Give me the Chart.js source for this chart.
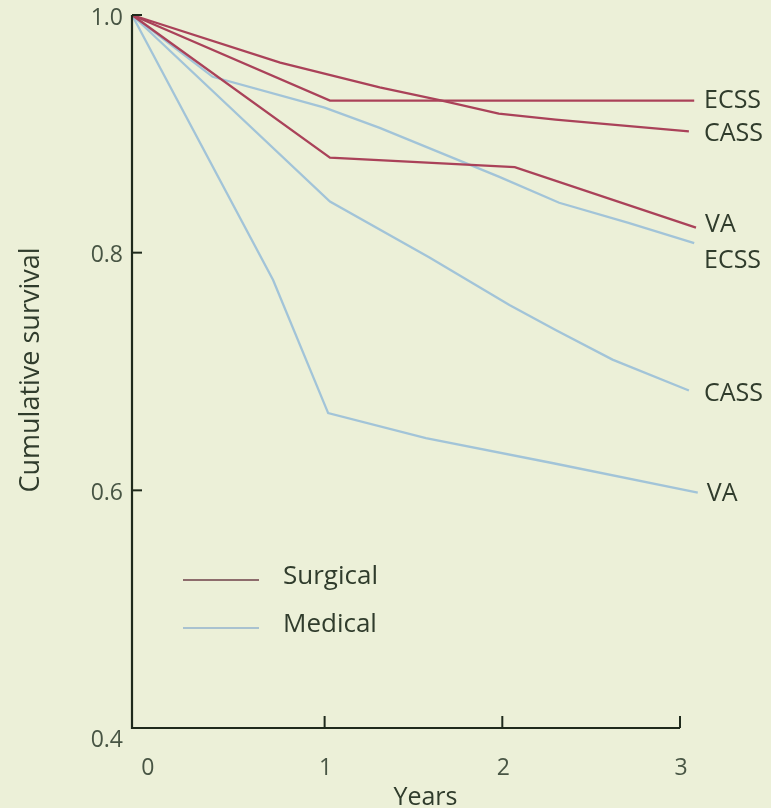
<!DOCTYPE html>
<html>
<head>
<meta charset="utf-8">
<script src="https://cdn.jsdelivr.net/npm/chart.js@4.4.1/dist/chart.umd.min.js"></script>
<style>
  html, body { margin: 0; padding: 0; background: #ecf0d8; }
  #wrap { width: 771px; height: 808px; position: relative; }
</style>
</head>
<body>
<div id="wrap"><canvas id="c"></canvas></div>
<script>
// Axis ticks
const xTicks = [0, 1, 2, 3];
const xTickLabels = ['0', '1', '2', '3'];
const yTicks = [0.4, 0.6, 0.8, 1.0];
const yTickLabels = ['0.4', '0.6', '0.8', '1.0'];

// The curves start at the axis corner, just left of the "0" tick
const AXIS_START = -0.084;

// Cumulative survival by trial and treatment group (years, survival)
const surgicalEcssYears = [AXIS_START, 0.75, 1.31, 1.66, 3.08];
const surgicalEcssSurvival = [1.0, 0.960, 0.939, 0.928, 0.928];
const surgicalCassYears = [AXIS_START, 1.03, 1.66, 1.98, 2.30, 3.05];
const surgicalCassSurvival = [1.0, 0.928, 0.928, 0.917, 0.912, 0.902];
const surgicalVaYears = [AXIS_START, 1.03, 2.07, 3.09];
const surgicalVaSurvival = [1.0, 0.880, 0.872, 0.821];

const medicalEcssYears = [AXIS_START, 0.37, 1.0, 1.31, 1.98, 2.32, 2.71, 3.08];
const medicalEcssSurvival = [1.0, 0.948, 0.922, 0.905, 0.864, 0.842, 0.825, 0.808];
const medicalCassYears = [AXIS_START, 1.03, 1.59, 2.04, 2.30, 2.62, 3.05];
const medicalCassSurvival = [1.0, 0.843, 0.796, 0.756, 0.735, 0.710, 0.684];
const medicalVaYears = [AXIS_START, 0.71, 1.02, 1.57, 2.28, 3.10];
const medicalVaSurvival = [1.0, 0.777, 0.665, 0.644, 0.623, 0.598];

const groupNames = ['Surgical', 'Medical'];
const trialNames = ['ECSS', 'CASS', 'VA'];

const SURGICAL = '#aa4259';
const MEDICAL = '#a2c4d8';
const INK = '#303c2c';
const FONT = '"Open Sans", "DejaVu Sans", sans-serif';

function toPoints(xs, ys) { return xs.map((x, i) => ({ x: x, y: ys[i] })); }

const series = [
  { group: 0, trial: 0, pts: toPoints(surgicalEcssYears, surgicalEcssSurvival), color: SURGICAL, labelShift: 0 },
  { group: 0, trial: 1, pts: toPoints(surgicalCassYears, surgicalCassSurvival), color: SURGICAL, labelShift: 2 },
  { group: 0, trial: 2, pts: toPoints(surgicalVaYears, surgicalVaSurvival), color: SURGICAL, labelShift: -3 },
  { group: 1, trial: 0, pts: toPoints(medicalEcssYears, medicalEcssSurvival), color: MEDICAL, labelShift: 18 },
  { group: 1, trial: 1, pts: toPoints(medicalCassYears, medicalCassSurvival), color: MEDICAL, labelShift: 3 },
  { group: 1, trial: 2, pts: toPoints(medicalVaYears, medicalVaSurvival), color: MEDICAL, labelShift: 1 }
];

const datasets = series.map(s => ({
  label: groupNames[s.group] + ' ' + trialNames[s.trial],
  data: s.pts,
  borderColor: s.color,
  borderWidth: 2.3,
  pointRadius: 0,
  tension: 0,
  fill: false,
  clip: false
}));

const paperPlugin = {
  id: 'paper',
  beforeDraw(chart) {
    const ctx = chart.ctx;
    ctx.save();
    ctx.fillStyle = '#ecf0d8';
    ctx.fillRect(0, 0, chart.width, chart.height);
    ctx.restore();
  }
};

const decorPlugin = {
  id: 'decor',
  afterDraw(chart) {
    const ctx = chart.ctx;
    const xs = chart.scales.x, ys = chart.scales.y;
    const area = chart.chartArea;
    ctx.save();

    // axis lines
    ctx.strokeStyle = '#1f2a1c';
    ctx.lineWidth = 2.2;
    ctx.beginPath();
    ctx.moveTo(area.left, ys.getPixelForValue(1.0));
    ctx.lineTo(area.left, ys.getPixelForValue(0.4));
    ctx.lineTo(xs.getPixelForValue(3), ys.getPixelForValue(0.4));
    ctx.stroke();

    // inward tick marks
    ctx.lineWidth = 2;
    xTicks.forEach(v => {
      if (v === 0) return;
      const px = xs.getPixelForValue(v);
      ctx.beginPath();
      ctx.moveTo(px, area.bottom);
      ctx.lineTo(px, area.bottom - 12);
      ctx.stroke();
    });
    yTicks.forEach(v => {
      if (v === 0.4) return;
      const py = ys.getPixelForValue(v);
      ctx.beginPath();
      ctx.moveTo(area.left, py);
      ctx.lineTo(area.left + 10, py);
      ctx.stroke();
    });

    // tick labels
    ctx.fillStyle = '#485544';
    ctx.font = '23px ' + FONT;
    ctx.textBaseline = 'middle';
    ctx.textAlign = 'center';
    xTicks.forEach((v, i) => {
      ctx.fillText(xTickLabels[i], xs.getPixelForValue(v) + 1, area.bottom + 40);
    });
    ctx.textAlign = 'right';
    yTicks.forEach((v, i) => {
      const py = ys.getPixelForValue(v) + (v === 0.4 ? 12 : 3);
      ctx.fillText(yTickLabels[i], area.left - 9, py);
    });

    // axis titles
    ctx.fillStyle = INK;
    ctx.font = '25px ' + FONT;
    ctx.textAlign = 'center';
    ctx.fillText('Years', (xs.getPixelForValue(1) + xs.getPixelForValue(2)) / 2 + 12, area.bottom + 70);
    ctx.save();
    ctx.translate(31, 370);
    ctx.rotate(-Math.PI / 2);
    ctx.font = '27px ' + FONT;
    ctx.fillText('Cumulative survival', 0, 0);
    ctx.restore();

    // end-of-line trial labels
    ctx.font = '25px ' + FONT;
    ctx.textAlign = 'left';
    ctx.fillStyle = INK;
    chart.data.datasets.forEach((ds, i) => {
      const last = ds.data[ds.data.length - 1];
      const px = xs.getPixelForValue(last.x);
      const py = ys.getPixelForValue(last.y);
      ctx.fillText(trialNames[series[i].trial], Math.max(px + 9, 704), py + series[i].labelShift);
    });

    // legend
    const legendColors = ['#8d6c6c', '#a9c2d0'];
    ctx.font = '26px ' + FONT;
    groupNames.forEach((name, i) => {
      const y = area.top + 565 + i * 48;
      const x0 = area.left + 51;
      ctx.strokeStyle = legendColors[i];
      ctx.lineWidth = 2;
      ctx.beginPath();
      ctx.moveTo(x0, y);
      ctx.lineTo(x0 + 76, y);
      ctx.stroke();
      ctx.fillStyle = INK;
      ctx.fillText(name, x0 + 100, y - 3);
    });

    ctx.restore();
  }
};

new Chart(document.getElementById('c'), {
  type: 'line',
  data: { datasets: datasets },
  options: {
    responsive: true,
    maintainAspectRatio: false,
    animation: false,
    layout: { padding: { top: 15, right: 91, left: 0, bottom: 0 } },
    plugins: { legend: { display: false }, tooltip: { enabled: false } },
    scales: {
      x: {
        type: 'linear', min: AXIS_START, max: 3,
        grid: { display: false }, border: { display: false },
        ticks: { display: false },
        afterFit(scale) { scale.height = 80; }
      },
      y: {
        type: 'linear', min: 0.4, max: 1.0,
        grid: { display: false }, border: { display: false },
        ticks: { display: false },
        afterFit(scale) { scale.width = 132; }
      }
    }
  },
  plugins: [paperPlugin, decorPlugin]
});
</script>
</body>
</html>
